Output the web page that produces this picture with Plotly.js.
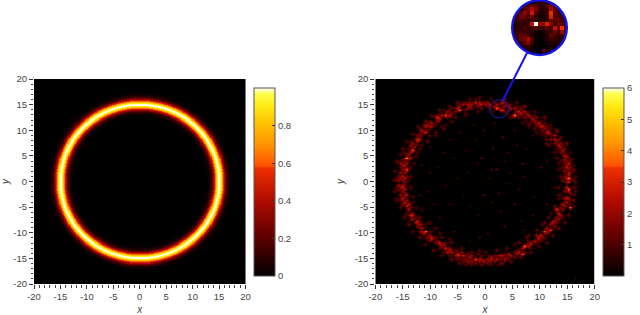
<!DOCTYPE html>
<html><head><meta charset="utf-8">
<script src="https://cdn.plot.ly/plotly-3.0.1.min.js"></script>
<style>html,body{margin:0;padding:0;background:#fff}#c{width:640px;height:315px}</style>
</head><body><div id="c"></div>
<script>
const ringValue=[1,0.995,0.96,0.92,0.87,0.80,0.72,0.63,0.55,0.47,0.40,0.33,0.26,0.20,0.15,0.12,0.09,0.07,0.05,0.04,0.03,0.02,0.015,0.01,0.005,0,0,0,0,0,0];
const ringRadius=15;
const tickVals=[-20,-15,-10,-5,0,5,10,15,20];
const leftBarTicks=[0,0.2,0.4,0.6,0.8];
const rightBarTicks=[1,2,3,4,5,6];
const speckNE=[[0.4,15.6,2],[0.8,15.2,2.6],[1.2,14.8,1.8],[0.4,14.8,1.4],[0.8,14.4,1.2],[1.6,15.6,1.6],[2,15.2,2.2],[2.4,14.4,2.6],[2.8,15.2,1.6],[3.2,15.6,2.8],[3.2,14,2.9],[2,14.4,3.8],[2.8,14,3.2],[3.6,14.8,2.2],[3.6,13.6,1.6],[4,15.2,2],[4.4,14.8,2.4],[4.4,14,1.8],[4.8,15.2,1.4],[5.2,14.4,2.2],[5.2,13,4.4],[5.6,14.8,1.2],[5.6,13.6,2],[6,13.8,3.2],[6.4,14.4,1.8],[6.4,13.2,2.4],[6.8,14,1.4],[6.8,12.8,1.6],[7.2,13.6,2.6],[7.2,12.4,1.8],[7.6,13.2,1.8],[7.6,12,1],[8,12.8,2.6],[8,13.6,1],[8.4,12.4,2],[8.4,11.6,1.4],[8.8,13,1.2],[8.8,12,2.4],[9.2,12.4,1.8],[9.2,11.2,2.2],[9.6,11.6,2.8],[9.6,10.6,1.4],[10,12,1.2],[10,11.2,1.8],[10.4,10.8,2.6],[10.4,10,1.6],[10.8,11.4,1.4],[10.8,10.4,2.2],[11.2,9.6,2.6],[11.2,10.8,1.4],[11.6,10,1.8],[11.6,9.2,2.2],[12,10.4,1],[12,9.2,1.6],[12,8.4,2],[12.4,8.8,2.8],[12.4,7.6,1.6],[12.8,9.6,1.2],[12.8,8,2.2],[13.2,8.4,1.6],[13.2,7.2,2.6],[13.2,6.4,1.4],[13.6,7.6,1.8],[13.6,6.8,2.4],[13.6,5.6,1.6],[14,7.2,1.2],[14,6,2.4],[14,5.2,1.4],[14.4,6.4,1.8],[14.4,5.6,1.2],[14.4,4.4,2.6],[14.4,3.6,1.8],[14.8,5,2.4],[14.8,4,1.6],[14.8,3.2,2.2],[15.2,4.8,1.4],[15.2,3.6,2.8],[15.2,2.4,2],[15.6,4,1.2],[15.6,2.8,1.8],[15.6,1.6,2.2],[16,3.2,1],[16,2,1.4],[14,2.8,1.4],[14.4,2,2.2],[14.4,1.2,1.8],[14.8,0.8,2.6],[15.2,0.6,4],[15.2,1.4,2.8],[15.6,0.8,2.4],[16,0.4,1.6],[14,0.4,1.6],[13.2,3.6,1],[11,7.6,1.2],[9.4,9.8,1],[6.8,11.6,1.2],[4.8,12.6,1.4],[16.4,1.2,1],[13.6,4,1.2],[12.8,6.4,1],[11.2,8.4,1.4],[10,9.4,1],[8,10.8,1.2]];
const speckNW=[[-0.4,15.6,1.8],[-0.8,15.2,2.6],[-0.8,14.4,1.4],[-1.2,15.6,2.2],[-1.8,15.4,3],[-1.6,14.6,1.8],[-2,16,1.2],[-2.4,15.2,2.4],[-2.4,14.4,1.6],[-2.8,15.6,1.8],[-3.2,15.2,2.6],[-3.2,14.4,2],[-3.6,15.6,1.2],[-3.6,14,1.6],[-4,15,2.2],[-4.6,14.1,3.8],[-4.4,15.2,1.4],[-4.8,14.6,2],[-5.2,14.2,3],[-5.2,15.2,1],[-5.6,13.6,2.2],[-6,14.4,1.6],[-6,13.2,1.8],[-6.4,14,1.4],[-6.8,13.6,2.4],[-7.3,13.1,3.6],[-7,12.4,1.4],[-7.6,14,1],[-8,13,2.4],[-8.5,12.6,3.5],[-8.4,13.4,1.2],[-8.8,12,2.2],[-9.2,12.4,2],[-9.2,11.2,1.4],[-9.6,11.6,2.8],[-10,12,1.2],[-10,10.8,2.2],[-10.4,11.2,2.4],[-10.4,10,1.6],[-10.8,10.6,2.8],[-11.2,11,1.4],[-11.2,9.6,2.2],[-11.6,10,2.6],[-11.6,9,1.6],[-12,10.4,1.2],[-12,9.2,2],[-12,8.4,2.6],[-12.4,8.8,1.8],[-12.4,7.8,2.8],[-12.8,9.2,1.2],[-12.8,8.2,2.2],[-12.8,7.2,1.6],[-13.2,7.6,2.2],[-13.2,6.1,3.8],[-13.6,7,2],[-13.6,5.6,2.4],[-13.6,8,1],[-14,6.4,1.4],[-14,5.2,2.2],[-14,4.4,1.6],[-14.3,4.8,4.5],[-14.4,3.6,2.4],[-14.4,2.6,3.5],[-14.8,5.6,1.2],[-14.8,4,1.8],[-14.8,3.2,2.6],[-15.2,4.4,1.4],[-15.2,3.2,2.2],[-15.2,2.4,1.8],[-15.6,3.6,2.4],[-15.6,2.8,1.4],[-15.6,1.6,2.4],[-14.8,1.8,2.2],[-14.8,0.8,2.6],[-14.4,1.2,1.6],[-15.2,1.2,2.8],[-15.2,0.4,2],[-15.6,0.6,2.2],[-16,1.2,1.6],[-16,0.2,2.4],[-16.4,0.8,1.2],[-14,0.4,1],[-13.6,3,1],[-11.6,7.2,1.2],[-10,8.8,1.2],[-8,10.6,1],[-6,12,1.2],[-3.6,12.8,1],[-12.4,5.8,1],[-9.2,9.6,1.4],[-7.2,11.2,1]];
const speckSW=[[-0.4,-15.6,2.6],[-0.8,-15,2.2],[-0.8,-14.4,1.4],[-1.2,-15.6,2],[-1.8,-15,3.5],[-1.6,-14.2,1.6],[-2,-16,1.6],[-2.4,-15.4,2.4],[-2.4,-14.4,2],[-2.8,-16,1.2],[-2.8,-14.8,2.8],[-3.2,-15.6,2.4],[-3.2,-14.2,1.8],[-3.6,-15,2],[-4,-14.4,3],[-4,-15.6,1.6],[-4.4,-13.8,2],[-4.4,-15,1.4],[-4.8,-14.6,2.6],[-5.2,-14,3.2],[-5.2,-15,1.6],[-5.6,-13.2,1.6],[-5.6,-14.4,2],[-6,-13.6,2.8],[-6.4,-14.4,1.4],[-6.4,-13,2.2],[-6.8,-13.6,2.6],[-7.2,-13,3],[-7.2,-12,1.4],[-7.6,-13.6,1.2],[-7.6,-12.4,2.6],[-8,-12.8,2],[-8.4,-12,3],[-8.4,-13,1.2],[-8.8,-11.6,2.2],[-9.2,-12,1.8],[-9.2,-10.8,1.6],[-9.6,-11.2,2.8],[-10,-11.6,1.4],[-10,-10.4,2.2],[-10.4,-10.8,2],[-10.9,-9.6,4],[-10.8,-10.8,1.2],[-11.2,-10,2.4],[-11.6,-9.2,2.6],[-11.6,-8.2,1.4],[-12,-9.6,1.4],[-12,-8.4,2.6],[-12.4,-8.8,2],[-12.4,-7.6,2.4],[-12.8,-8,2.8],[-12.8,-7,1.6],[-13.2,-7.2,2.6],[-13.2,-6,2],[-13.6,-6.4,3],[-13.6,-5.2,2],[-13.6,-7.6,1.2],[-14,-5.6,2.6],[-14,-4.4,1.8],[-14.4,-4.8,3],[-14.4,-3.6,2.4],[-14.4,-6,1.2],[-14.8,-4,2.6],[-14.8,-3,1.8],[-15.2,-4.4,1.6],[-15.2,-3.2,2.8],[-15.2,-2,2],[-15.6,-3.6,1.4],[-15.6,-2.4,2.4],[-15.6,-1.2,2.2],[-14.8,-1.4,2.6],[-14.8,-2.2,1.8],[-15.2,-0.8,2.6],[-14.8,-0.2,2],[-16,-1.6,1.6],[-16,-0.6,2.4],[-16.4,-1,1.2],[-16.4,-3.2,1],[-14.4,-0.8,1],[-13.2,-4,1],[-11.6,-5.6,1],[-10,-8,1.2],[-8.4,-10,1],[-6.4,-11.2,1.2],[-3.6,-16.2,1.2],[-1.2,-13.4,1],[-9.2,-9.2,1.2]];
const speckSE=[[0.4,-15,2.4],[0.4,-15.8,1.6],[0.8,-15.4,2.2],[0.8,-14.4,1.4],[1.2,-14.8,2.6],[1.6,-15.6,1.8],[1.6,-14.4,1.8],[2,-15.2,2.8],[2.4,-14.6,2.2],[2.4,-16.2,1.2],[2.8,-15.2,1.8],[3.2,-14.6,2.4],[3.2,-15.8,1.4],[3.6,-14.2,1.6],[3.6,-15.2,2.4],[4,-14.8,1.8],[4.4,-14,2.6],[4.4,-15.2,1.2],[4.8,-14.4,2.4],[5.2,-13.6,1.6],[5.2,-14.8,1.4],[5.6,-14,2.4],[6,-13.2,1.8],[6.4,-14.4,1.2],[6.7,-14,3.6],[6.8,-13,2.2],[7.3,-12.6,4.2],[7.2,-13.6,1.4],[7.6,-12.2,1.8],[8,-12.8,2.6],[8,-11.6,1.4],[8.4,-12,2.4],[8.4,-13,1.2],[8.8,-11.4,2.6],[9.2,-12,1.6],[9.2,-10.6,2.2],[9.6,-11.2,2.4],[10,-10.4,2.8],[10,-11.6,1.2],[10.6,-9.8,3.6],[10.4,-10.8,2],[10.8,-11,1.2],[11.2,-9.2,2.6],[11.2,-10.2,1.8],[11.6,-9.6,2],[12,-9.5,3.5],[12,-8.4,2.2],[12.4,-8.8,1.6],[12.4,-7.6,2.6],[12.8,-8,2],[12.8,-6.8,1.8],[13.1,-5.6,3.5],[13.2,-7.2,2.4],[13.6,-6.4,2.6],[13.6,-5,1.8],[14,-5.6,2],[14,-4.2,2.6],[14,-7,1],[14.4,-4.8,2.4],[14.4,-3.4,2.2],[14.8,-4,2.6],[14.8,-2.8,1.6],[15.2,-3.4,2.4],[15.2,-1.3,3.8],[15.6,-5.2,4.2],[15.6,-2.2,2],[15.6,-3.6,1.4],[14.4,-2,1.8],[14.8,-1,2.8],[14.8,-0.2,2.2],[15.2,-0.2,2.6],[16,-1.2,1.4],[16,-2.6,1.2],[16.4,-1.2,1],[16,-4.6,1],[13.2,-3.4,1.2],[12,-6.2,1],[10.4,-8.2,1.2],[8,-10.4,1],[5.2,-12.4,1],[13.6,-2.4,1]];
const speckOuter=[[1.2,16.2,1.3],[3.4,16,1.6],[5.6,15.4,1.2],[7.2,14.7,1.8],[9,13.6,1.4],[10.6,12.4,1.7],[11.8,11.2,1.2],[12.8,10,1.6],[13.8,8.5,1.3],[14.6,7.4,1.7],[15.3,5.6,1.2],[15.9,4.4,1.5],[16.3,2.6,1.4],[16.6,0,1.3],[16.5,-1.8,1.2],[16.2,-3.6,1.6],[15.6,-4.4,1.3],[15,-6.4,1.4],[14.4,-7.8,1.2],[13.3,-9,1.6],[12.2,-10.4,1.3],[11,-11.8,1.5],[9.6,-12.8,1.2],[8.2,-13.8,1.5],[6.6,-14.8,1.3],[4.8,-15.6,1.4],[3,-16,1.6],[1.2,-16.2,1.4],[-0.8,-16.4,1.5],[-2.6,-16.4,1.2],[-4.6,-16,1.3],[-6.2,-15.2,1.6],[-7.8,-14.6,1.3],[-9.4,-13.4,1.5],[-10.8,-12.2,1.2],[-12,-11,1.4],[-13.2,-9.6,1.2],[-14.2,-8.2,1.5],[-14.9,-6.8,1.4],[-15.6,-5.2,1.3],[-16.2,-3.8,1.4],[-16.6,-2,1.2],[-16.7,0.2,1.5],[-16.5,2.2,1.3],[-16.2,3.8,1.5],[-15.6,5.2,1.3],[-15,6.6,1.4],[-14.4,7.8,1.2],[-13.4,9.4,1.4],[-12.4,10.6,1.3],[-11,12,1.5],[-9.6,13,1.3],[-8.2,14,1.4],[-6.6,14.8,1.2],[-5,15.6,1.4],[-3,16,1.2],[-1,16.4,1.3]];
const speckInnerBand=[[1.4,13.8,1.3],[4,13.2,1.2],[6,12.6,1.5],[7.8,11.2,1.2],[9,10.4,1.4],[10.6,8.8,1.3],[11.6,7.2,1.5],[12.4,5.6,1.2],[13,4.6,1.5],[13.4,2.6,1.2],[13.6,1,1.4],[13.4,-1,1.3],[13.2,-2.6,1.2],[12.6,-4.8,1.5],[11.6,-6.8,1.2],[10.8,-7.8,1.4],[9.4,-9.4,1.5],[7.4,-11,1.3],[6,-12,1.5],[4,-13,1.3],[2,-13.4,1.5],[0,-13.8,1.2],[-2.6,-13.6,1.4],[-4.4,-13,1.2],[-6.2,-12,1.5],[-7.8,-10.8,1.3],[-9.6,-9.8,1.4],[-10.8,-8.4,1.2],[-11.8,-6.8,1.5],[-12.6,-5.2,1.3],[-13.2,-2.8,1.4],[-13.6,-1,1.2],[-13.6,1.2,1.4],[-13,3.6,1.2],[-12.6,5,1.4],[-11.8,6.4,1.3],[-10.6,8,1.5],[-9,9,1.2],[-7.6,10.4,1.4],[-5.6,12.6,1.3],[-3.8,13.2,1.2],[-1.6,13.6,1.4]];
const speckMid=[[0,15.2,2.4],[1.6,14.6,2],[4.8,14.4,2.6],[6.6,13.4,2.8],[8.6,12.2,2.6],[10.2,10.6,2.8],[11.4,9.8,2.4],[12.6,8.4,2.6],[13.4,7,2.8],[14.2,5,2.6],[14.6,3,2.8],[15,1.8,2.4],[15,-2,2.6],[14.6,-3.2,2.8],[14.2,-4.6,2.6],[13.4,-6,2.8],[12.2,-7.8,2.8],[11.4,-9.8,2.6],[9.8,-10.8,2.8],[8.4,-12.4,2.8],[6,-13.6,2.6],[4.6,-14.4,2.8],[2.8,-14.6,2.6],[1,-15,2.8],[-1,-15.2,2.6],[-3,-14.8,2.6],[-5,-14.4,2.8],[-6.6,-13.2,2.8],[-8.2,-12.4,2.6],[-9.8,-11,2.8],[-11.4,-9.6,2.8],[-12.2,-8,2.8],[-13.4,-6.6,2.8],[-14.2,-4.2,2.8],[-14.6,-2.6,2.8],[-15,-1,2.8],[-15,1,2.6],[-14.6,2.2,2.6],[-13.8,4.8,2.6],[-13,6.8,2.6],[-12.2,8.2,2.8],[-11,9.8,2.8],[-9.8,10.8,2.6],[-8.4,12.2,2.6],[-6.6,13,2.8],[-5,14.2,2.8],[-3,14.8,2.8],[-1.2,15,2.6]];
const speckInner=[[16.7,-18.6,1],[1.5,6.5,1.6],[1.2,2.6,1.4],[2.1,2.4,1.8],[-0.3,-2.6,1.4],[-0.6,4.8,1.6],[-5.2,0.6,1],[-10,1.6,1.2],[-10.3,-2,1.2],[-9.4,-4.3,1],[10,2.9,1.4],[6.7,3.5,1.4],[3.9,-0.4,1],[12.5,-1,1.2],[0.9,-3.9,1.2],[3.3,8.7,1.4],[8.5,9,1],[-2.1,11.3,1.2],[-0.3,10,1],[-10,6.8,1.2],[2.7,-5.9,1],[8.5,-6.5,1.2],[7,-9.5,1],[-1.2,-10.8,1],[-5.8,-9.8,1.2],[-8.2,-6.9,1],[-3.5,6,1],[-5.8,4.8,1],[-7.6,5.6,1],[-2,8.4,0.8],[4.4,5.6,1],[5.8,7.2,1],[7.2,1,1],[9,-2.8,0.8],[-4,-2.8,0.8],[-6.4,-4.4,1],[-1.4,-6.4,0.8],[3.6,-8.8,1.2],[0.4,-10.2,1],[-3,-11.6,1],[5.4,-4.4,1],[11,-4.2,1],[11.2,4,1],[-11.6,3.2,1],[-12,-2.6,1],[-7.4,-0.6,0.8],[-3.2,1.8,0.8],[0.8,0.8,0.8],[2.4,-2.2,0.8],[6.2,-1.4,1],[-6.6,8.4,1],[-4.8,9.6,1],[1.8,11.4,1.2],[5.2,10.2,1],[7.6,6.4,0.8],[-8.8,2.8,0.8],[3.6,4,0.8],[-1.6,3.4,1],[4.8,1.8,0.8],[-2.8,-4.6,0.8],[6.6,-7.6,0.8]];
const insetRows=[
[0,0,0,0,0,0,0.5,0.6,0.6,0.5,0,0,0,0,0],
[0,0,0,0,1,1.3,1,0.6,0.6,1,1.5,1,0,0,0],
[0,0,0,1.3,1.5,2.4,1.6,0.6,0.5,0.8,2.2,1.2,0.5,0,0],
[0,0,1.2,1.8,1.2,2.8,1,0.4,0.4,0.8,3.4,1.2,0.8,0.5,0],
[0,0.6,1.5,1.3,0.8,1.3,0.6,0.3,0.3,0.6,3,1,1,0.8,0],
[0,0.8,1,0.8,0.6,0.8,0.5,0.5,0.5,0.6,1.3,1.2,1.3,0.8,0.5],
[0,0.6,0.6,0.6,0.8,2.6,6,2,1.8,3,1.8,0.8,1.5,1.2,0.6],
[0.5,0.6,0.6,1,0.6,0.8,1,0.8,0.6,1.2,0.8,2.6,1.2,3.4,1.3],
[0.5,0.8,0.8,0.8,0.6,0.5,0.3,0,0.3,0.6,0.8,1.5,0.8,2,0.8],
[0.3,0.8,1.3,1.2,0.8,0.5,0.2,0,0.3,0.5,1.3,1,0.6,0.8,0.6],
[0,0.6,1.3,1.5,2.4,1,0.2,0,0.2,0.5,0.8,0.6,0.5,0.6,0],
[0,0.3,0.6,1.2,1.8,0.8,0.2,0,0,0.3,0.5,0.3,0.5,0.5,0],
[0,0,0.3,0.5,0.6,0.3,0,0,0,0.2,0.3,0.2,0.3,0,0],
[0,0,0,0.3,0.3,0.2,0,0,1.3,0.6,0.3,0.2,0,0,0],
[0,0,0,0,0,0,0,0,0.5,0.3,0,0,0,0,0]];

const hot=[[0,'#000000'],[0.2,'#5c0000'],[0.4,'#b00a00'],[0.575,'#ee3000'],[0.585,'#ff5000'],[0.7,'#ff9400'],[0.8,'#ffbc00'],[0.9,'#ffe810'],[0.97,'#ffff50'],[1,'#ffffff']];
const W=640,H=315,px=v=>v/W,py=v=>1-v/H;

// left panel: radial profile (read every 0.1 unit from the ring centre) looked up per cell
const leftStep=0.1,leftN=400,leftAxis=[],leftZ=[];
for(let i=0;i<leftN;i++)leftAxis.push(-20+leftStep*(i+0.5));
for(let j=0;j<leftN;j++){const row=[];for(let i=0;i<leftN;i++){
  const d=Math.abs(Math.hypot(leftAxis[i],leftAxis[j])-ringRadius);
  row.push(d>=3?0:ringValue[Math.round(d/0.1)]);}leftZ.push(row);}

// right panel: speckles binned to the image grid; ring speckles keep the dim rim they show in the picture
const cell=0.36,rimShare=0.45,rightN=112,rightAxis=[],rightZ=[];
for(let i=0;i<rightN;i++)rightAxis.push(-20+cell*(i+0.5));
for(let j=0;j<rightN;j++)rightZ.push(new Array(rightN).fill(0));
const paint=(i,j,v)=>{if(i>=0&&j>=0&&i<rightN&&j<rightN)rightZ[j][i]=Math.max(rightZ[j][i],v);};
[speckNE,speckNW,speckSW,speckSE,speckOuter,speckInnerBand,speckMid].forEach(list=>list.forEach(p=>{
  const i=Math.floor((p[0]+20)/cell),j=Math.floor((p[1]+20)/cell);
  paint(i,j,p[2]);
  [[1,0],[-1,0],[0,1],[0,-1]].forEach(o=>paint(i+o[0],j+o[1],p[2]*rimShare));}));
speckInner.forEach(p=>paint(Math.floor((p[0]+20)/cell),Math.floor((p[1]+20)/cell),p[2]));

// inset: each read cell split into sub-cells so the round edge is smooth
const sub=4,n=insetRows.length*sub,insetAxis=[],insetZ=[];
for(let i=0;i<n;i++)insetAxis.push((i+0.5)/sub);
for(let j=0;j<n;j++){const row=[];for(let i=0;i<n;i++){
  const inside=Math.hypot(insetAxis[i]-7.5,insetAxis[j]-7.5)<7.4;
  row.push(inside?insetRows[Math.floor(j/sub)][Math.floor(i/sub)]:null);}insetZ.push(row);}

const barText={size:9.5,color:'#444',family:'Liberation Sans, Arial, sans-serif'};
const bar=(x,ticks,labels)=>({x:px(x),xanchor:'left',xpad:0,ypad:0,y:py(276),yanchor:'bottom',lenmode:'pixels',len:188,thicknessmode:'pixels',thickness:21,outlinecolor:'#555',outlinewidth:1,ticks:'inside',ticklen:3,tickcolor:'#333',tickvals:ticks,ticktext:labels,tickfont:barText});
const traces=[
 {type:'heatmap',x:leftAxis,y:leftAxis,z:leftZ,xaxis:'x',yaxis:'y',colorscale:hot,zmin:0,zmax:1,zsmooth:false,colorbar:bar(254,leftBarTicks,leftBarTicks.map(String)),hoverinfo:'skip'},
 {type:'heatmap',x:rightAxis,y:rightAxis,z:rightZ,xaxis:'x2',yaxis:'y2',colorscale:hot,zmin:0,zmax:6,zsmooth:'best',colorbar:bar(603,rightBarTicks,rightBarTicks.map(String)),hoverinfo:'skip'},
 {type:'heatmap',x:insetAxis,y:insetAxis,z:insetZ,xaxis:'x3',yaxis:'y3',colorscale:hot,zmin:0,zmax:6,zsmooth:false,showscale:false,hoverinfo:'skip'}
];
const axis=(dom,title,anchor,standoff)=>({domain:dom,range:[-20,20],anchor:anchor,tickvals:tickVals,ticktext:tickVals.map(String),ticks:'outside',ticklen:4,tickcolor:'#333',tickwidth:1,
  minor:{dtick:1,ticks:'outside',ticklen:2.5,tickcolor:'#444',tickwidth:1},showgrid:false,zeroline:false,showline:false,automargin:false,
  tickfont:barText,title:{text:'<i>'+title+'</i>',font:{size:10,color:'#444',family:barText.family},standoff:standoff}});
const layout={width:W,height:H,margin:{l:0,r:0,t:0,b:0},paper_bgcolor:'#fff',plot_bgcolor:'#fff',showlegend:false,
 xaxis:axis([px(34),px(245.5)],'x','y',11),
 yaxis:axis([py(284),py(79)],'y','x',8),
 xaxis2:axis([px(375.3),px(594.7)],'x','y2',11),
 yaxis2:axis([py(284),py(79)],'y','x2',8),
 xaxis3:{domain:[px(511.7),px(567.3)],range:[0,15],anchor:'y3',visible:false},
 yaxis3:{domain:[py(55.5),py(0)],range:[15,0],anchor:'x3',visible:false},
 shapes:[
  {type:'line',xref:'paper',yref:'paper',x0:px(503),y0:py(100),x1:px(527),y1:py(53),line:{color:'#1414e6',width:2}},
  {type:'circle',xref:'x2',yref:'y2',x0:0.85,x1:4.35,y0:12.4,y1:15.95,line:{color:'#1a1ab4',width:1}},
  {type:'circle',xref:'paper',yref:'paper',x0:px(512.2),x1:px(566.8),y0:py(55),y1:py(0.3),line:{color:'#1414e6',width:2.5}}
 ]};
Plotly.newPlot('c',traces,layout,{staticPlot:true,displayModeBar:false});
</script></body></html>
